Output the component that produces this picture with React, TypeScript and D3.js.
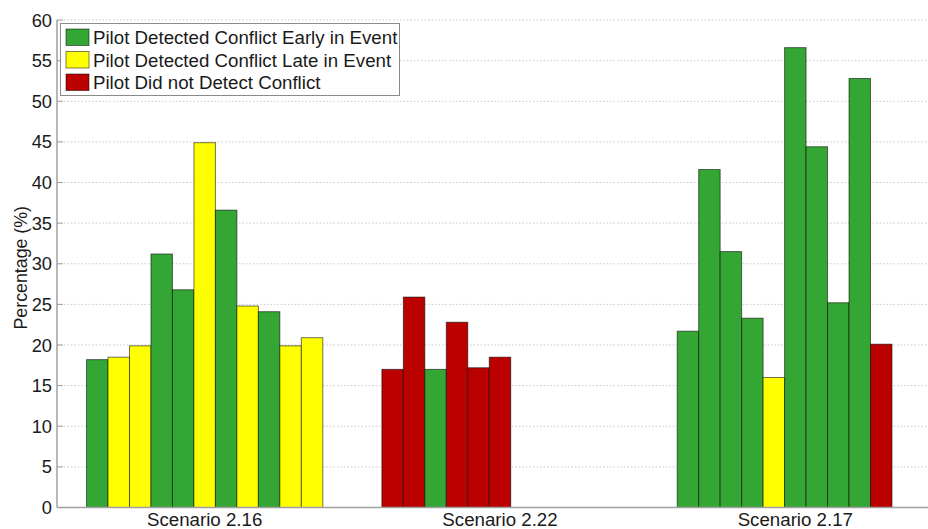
import React from "react";
import * as d3 from "d3";

const scenarios = ["Scenario 2.16", "Scenario 2.22", "Scenario 2.17"];
const values216 = [18.2, 18.5, 19.9, 31.2, 26.8, 44.9, 36.6, 24.8, 24.1, 19.9, 20.9];
const outcome216 = ["early", "late", "late", "early", "early", "late", "early", "late", "early", "late", "late"];
const values222 = [17.0, 25.9, 17.0, 22.8, 17.2, 18.5];
const outcome222 = ["none", "none", "early", "none", "none", "none"];
const values217 = [21.7, 41.6, 31.5, 23.3, 16.0, 56.6, 44.4, 25.2, 52.8, 20.1];
const outcome217 = ["early", "early", "early", "early", "late", "early", "early", "early", "early", "none"];
const outcomeKeys = ["early", "late", "none"];
const outcomeLabels = [
  "Pilot Detected Conflict Early in Event",
  "Pilot Detected Conflict Late in Event",
  "Pilot Did not Detect Conflict",
];
const yTicks = d3.range(0, 61, 5);
const slotCount = 11;
const yLabel = "Percentage (%)";

const colors: Record<string, string> = { early: "#33a633", late: "#ffff00", none: "#bb0000" };
const FONT = "'Liberation Sans', Arial, Helvetica, sans-serif";

export default function App() {
  const W = 928, H = 529;
  const x = d3.scaleLinear().domain([0.5, 3.5]).range([57, 943]);
  const y = d3.scaleLinear().domain([0, 60]).range([507.5, 20]);
  const groups = [
    { values: values216, outcomes: outcome216 },
    { values: values222, outcomes: outcome222 },
    { values: values217, outcomes: outcome217 },
  ];
  const bars: any[] = [];
  groups.forEach((g, gi) => {
    const c = gi + 1;
    const band = d3.scaleBand<number>().domain(d3.range(slotCount)).range([x(c - 0.4), x(c + 0.4)]).padding(0);
    g.values.forEach((v, i) => {
      bars.push({ x: band(i)!, w: band.bandwidth(), y: y(v), h: y(0) - y(v), color: colors[g.outcomes[i]], key: `${gi}-${i}` });
    });
  });
  const x0 = x(0.5);
  return (
    <svg width={W} height={H} style={{ position: "absolute", left: 0, top: 0, background: "#fff" }} fontFamily={FONT}>
      {yTicks.filter((t) => t > 0).map((t) => (
        <line key={"g" + t} x1={x0} x2={W} y1={y(t)} y2={y(t)} stroke="#c8c8c8" strokeWidth={1} strokeDasharray="1.5,2" />
      ))}
      {bars.map((b) => (
        <rect key={b.key} x={b.x} y={b.y} width={b.w} height={b.h} fill={b.color} stroke="rgba(0,0,0,0.55)" strokeWidth={1} />
      ))}
      <line x1={x0} x2={x0} y1={y(60)} y2={y(0)} stroke="#a0a0a0" strokeWidth={1.5} />
      <line x1={x0} x2={W} y1={y(0)} y2={y(0)} stroke="#a0a0a0" strokeWidth={1.5} />
      {yTicks.map((t) => (
        <g key={"t" + t}>
          <line x1={x0} x2={x0 + 6} y1={y(t)} y2={y(t)} stroke="#a0a0a0" strokeWidth={1} />
          <text x={x0 - 5} y={y(t)} dy="0.36em" textAnchor="end" fontSize={18.3} fill="#1a1a1a">{t}</text>
        </g>
      ))}
      {scenarios.map((s, i) => (
        <text key={s} x={x(i + 1)} y={526} textAnchor="middle" fontSize={18.7} fill="#1a1a1a">{s}</text>
      ))}
      <text transform={`translate(27,${(y(0) + y(60)) / 2 + 4}) rotate(-90)`} textAnchor="middle" fontSize={17.8} fill="#1a1a1a">{yLabel}</text>
      <rect x={60.5} y={23.5} width={339} height={72} fill="#fff" stroke="#8a8a8a" strokeWidth={1} />
      {outcomeKeys.map((k, i) => (
        <g key={k} transform={`translate(0,${29 + i * 22.5})`}>
          <rect x={66} y={0} width={23} height={16.5} fill={colors[k]} stroke="rgba(0,0,0,0.5)" strokeWidth={1} />
          <text x={93} y={8.5} dy="0.36em" fontSize={18.7} fill="#1a1a1a">{outcomeLabels[i]}</text>
        </g>
      ))}
    </svg>
  );
}
